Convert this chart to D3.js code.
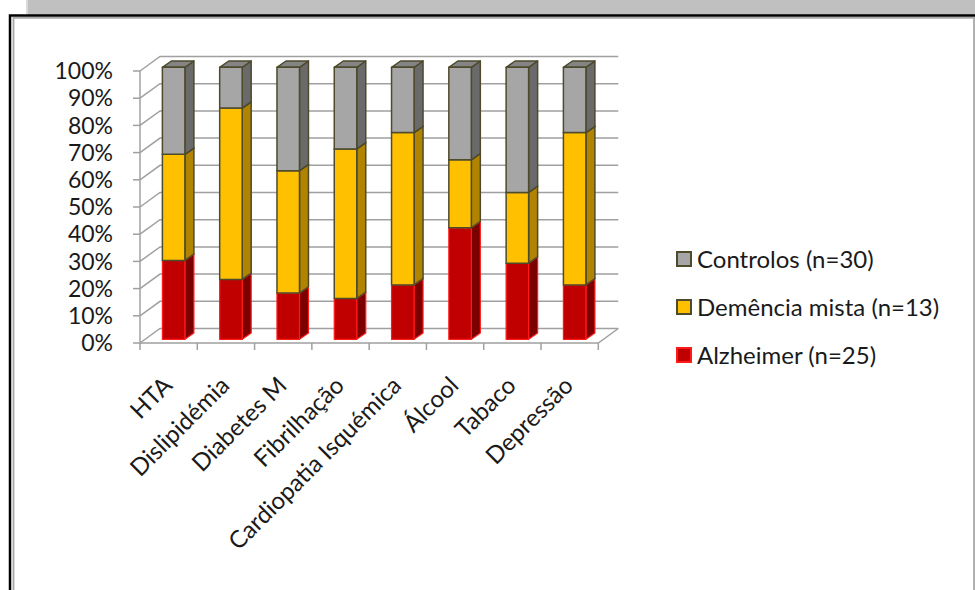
<!DOCTYPE html>
<html>
<head>
<meta charset="utf-8">
<script src="https://cdn.jsdelivr.net/npm/d3@7"></script>
<style>
  html, body { margin: 0; padding: 0; background: #fff; }
  svg { display: block; }
  text { font-family: Lato, "Open Sans", sans-serif; fill: #1a1a1a; }
</style>
</head>
<body>
<svg id="chart" width="975" height="590"></svg>
<script>
// Risk factors by group, share of each group (percent, stacked to 100%)
const categories = ["HTA", "Dislipidémia", "Diabetes M", "Fibrilhação", "Cardiopatia Isquémica", "Álcool", "Tabaco", "Depressão"];
const alzheimer  = [29, 22, 17, 15, 20, 41, 28, 20];
const demencia   = [39, 63, 45, 55, 56, 25, 26, 56];
const controlos  = [32, 15, 38, 30, 24, 34, 46, 24];
const seriesNames = ["Alzheimer (n=25)", "Demência mista (n=13)", "Controlos (n=30)"];
const yTicks = [0, 10, 20, 30, 40, 50, 60, 70, 80, 90, 100];

const svg = d3.select("#chart");

// window frame
svg.append("rect").attr("x", 26).attr("y", 0).attr("width", 949).attr("height", 15).attr("fill", "#c0c0c0");
svg.append("line").attr("x1", 27).attr("x2", 27).attr("y1", 0).attr("y2", 15).attr("stroke", "#dadada").attr("stroke-width", 2);
svg.append("path").attr("d", "M10,592 V15.5 H977").attr("fill", "none").attr("stroke", "#000").attr("stroke-width", 2.5);
svg.append("path").attr("d", "M13.5,592 V17.8 H977").attr("fill", "none").attr("stroke", "#a8a8a8").attr("stroke-width", 1.8);
svg.append("line").attr("x1", 974).attr("x2", 974).attr("y1", 18).attr("y2", 592).attr("stroke", "#b0b0b0").attr("stroke-width", 2);

// 3D projection: plot front plane and depth offset
const x0 = 140, x1 = 598.3;
const depth = { dx: 20, dy: -14.5 };
const x = d3.scaleBand().domain(categories).range([x0, x1]).padding(0);
const y = d3.scaleLinear().domain([0, 100]).range([343, 71]);

const grid = svg.append("g").attr("stroke", "#a0a0a0").attr("stroke-width", 1.5).attr("fill", "none");
yTicks.forEach(t => {
  const yf = y(t), yb = y(t) + depth.dy;
  grid.append("path").attr("d", `M${x0},${yf} L${x0 + depth.dx},${yb} H${x1 + depth.dx}`);
  grid.append("line").attr("x1", x0 - 7).attr("x2", x0).attr("y1", yf).attr("y2", yf);
});
// vertical value axis and floor
grid.append("line").attr("x1", x0).attr("x2", x0).attr("y1", y(0) + 0.5).attr("y2", y(100));
grid.append("path").attr("d", `M${x0},${y(0)} H${x1} L${x1 + depth.dx},${y(0) + depth.dy}`);
const bounds = categories.map(c => x(c)).concat([x1]);
bounds.forEach(bx => {
  grid.append("line").attr("x1", bx).attr("x2", bx).attr("y1", y(0)).attr("y2", y(0) + 7);
});

// y-axis labels
const yAxis = svg.append("g").attr("font-size", 23);
yTicks.forEach(t => {
  yAxis.append("text").attr("x", 113).attr("y", y(t)).attr("dy", "0.36em")
    .attr("text-anchor", "end").text(t + "%");
});

// category labels
const xl = svg.append("g").attr("font-size", 24);
categories.forEach(c => {
  const cx = x(c) + x.bandwidth() / 2 + 5;
  xl.append("text").attr("text-anchor", "end")
    .attr("transform", `translate(${cx},387) rotate(-45)`).text(c);
});

// stacked 3D bars
const rows = categories.map((c, i) => ({ cat: c, a: alzheimer[i], d: demencia[i], k: controlos[i] }));
const stack = d3.stack().keys(["a", "d", "k"]);
const layers = stack(rows);
const styles = {
  a: { front: "#c00000", side: "#7c0000", top: "#a00000", stroke: "#ff1a1a", sw: 1.2 },
  d: { front: "#ffc000", side: "#b08400", top: "#d9a300", stroke: "#4e4a2c", sw: 1.5 },
  k: { front: "#a6a6a6", side: "#6a6a6a", top: "#848484", stroke: "#4e4a2c", sw: 1.5 }
};
const barW = 22.5;
const shift = { dx: 5, dy: -3.7 };  // bar front face sits slightly behind the front plane
const bd = { dx: 9, dy: -6.3 };     // bar depth

const bars = svg.append("g").attr("stroke-linejoin", "round");
categories.forEach((c, i) => {
  const L = x(c) + x.bandwidth() / 2 - barW / 2 + shift.dx;
  const R = L + barW;
  layers.forEach(layer => {
    const st = styles[layer.key];
    const seg = layer[i];
    const yb = y(seg[0]) + shift.dy, yt = y(seg[1]) + shift.dy;
    const g = bars.append("g").attr("stroke", st.stroke).attr("stroke-width", st.sw);
    g.append("path").attr("fill", st.side)
      .attr("d", `M${R},${yb} L${R + bd.dx},${yb + bd.dy} L${R + bd.dx},${yt + bd.dy} L${R},${yt} Z`);
    g.append("path").attr("fill", st.top)
      .attr("d", `M${L},${yt} L${R},${yt} L${R + bd.dx},${yt + bd.dy} L${L + bd.dx},${yt + bd.dy} Z`);
    g.append("rect").attr("fill", st.front)
      .attr("x", L).attr("y", yt).attr("width", barW).attr("height", yb - yt);
  });
});

// legend
const legendItems = [
  { key: "k", label: seriesNames[2], y: 259 },
  { key: "d", label: seriesNames[1], y: 307 },
  { key: "a", label: seriesNames[0], y: 355 }
];
const lg = svg.append("g");
legendItems.forEach(it => {
  const st = styles[it.key];
  lg.append("rect").attr("x", 677).attr("y", it.y - 7).attr("width", 14).attr("height", 14)
    .attr("fill", st.front).attr("stroke", st.stroke).attr("stroke-width", 2);
  lg.append("text").attr("x", 697).attr("y", it.y).attr("dy", "0.36em")
    .attr("font-size", 24).text(it.label);
});
</script>
</body>
</html>
